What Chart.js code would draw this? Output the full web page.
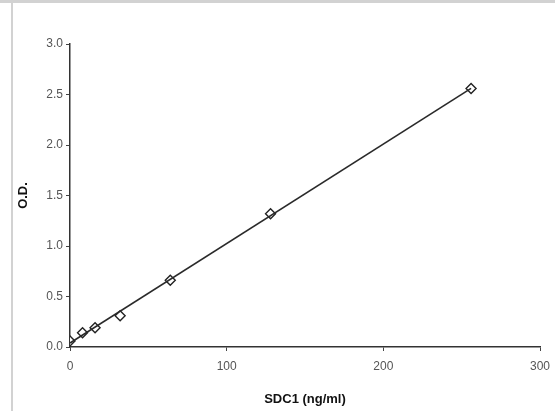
<!DOCTYPE html>
<html lang="en">
<head>
    <meta charset="UTF-8">
    <script src="https://cdn.jsdelivr.net/npm/chart.js"></script>
    <title>SDC1 standard curve</title>
    <style>
        html, body { margin: 0; padding: 0; background: #fff; }
        #frame { position: absolute; left: 0; top: 0; width: 555px; height: 411px; }
        #topbar { position: absolute; left: 0; top: 0; width: 555px; height: 3px; background: #d2d2d2; }
        #leftbar { position: absolute; left: 11px; top: 0; width: 2px; height: 411px; background: #d2d2d2; }
        canvas { position: absolute; left: 0; top: 0; }
    </style>
</head>
<body>
    <div id="frame">
        <canvas id="chart" width="555" height="411"></canvas>
        <div id="topbar"></div>
        <div id="leftbar"></div>
    </div>

    <script>
        // standards
        const concentration = [0, 8, 16, 32, 64, 128, 256];
        const opticalDensity = [0.06, 0.14, 0.19, 0.31, 0.66, 1.32, 2.56];

        // trend line ends
        const fitX = [0, 256];
        const fitY = [0.04, 2.56];

        const yTicks = [0, 0.5, 1.0, 1.5, 2.0, 2.5, 3.0];
        const xTicks = [0, 100, 200, 300];

        const points = concentration.map((x, i) => ({ x: x, y: opticalDensity[i] }));
        const fit = fitX.map((x, i) => ({ x: x, y: fitY[i] }));

        const tickFont = { family: 'Liberation Sans, Arial, sans-serif', size: 12 };
        const titleFont = { family: 'Liberation Sans, Arial, sans-serif', size: 13, weight: 'bold' };

        new Chart(document.getElementById('chart'), {
            type: 'scatter',
            data: {
                datasets: [{
                    label: 'fit',
                    data: fit,
                    showLine: true,
                    borderColor: '#2a2a2a',
                    borderWidth: 1.6,
                    pointRadius: 0
                }, {
                    label: 'SDC1',
                    data: points,
                    pointStyle: 'rectRot',
                    pointRadius: 5,
                    pointBackgroundColor: '#fff',
                    pointBorderColor: '#222',
                    pointBorderWidth: 1.4
                }]
            },
            options: {
                responsive: false,
                animation: false,
                layout: { padding: { left: 12, right: 15, top: 44, bottom: 0 } },
                plugins: { legend: { display: false }, tooltip: { enabled: false } },
                scales: {
                    x: {
                        type: 'linear',
                        min: 0, max: 300,
                        afterBuildTicks: s => { s.ticks = xTicks.map(v => ({ value: v })); },
                        ticks: { font: tickFont, color: '#555', padding: 8 },
                        grid: { drawOnChartArea: false, tickLength: 4, color: '#444' },
                        border: { color: '#333', width: 1.5 },
                        title: { display: true, text: 'SDC1 (ng/ml)', font: titleFont, color: '#111', padding: { top: 8, bottom: 4 } },
                        afterFit: s => { s.height = 64; s.paddingRight = 0; s.paddingLeft = 0; }
                    },
                    y: {
                        type: 'linear',
                        min: 0, max: 3,
                        afterBuildTicks: s => { s.ticks = yTicks.map(v => ({ value: v })); },
                        ticks: { font: tickFont, color: '#555', padding: 3, callback: v => v.toFixed(1) },
                        grid: { drawOnChartArea: false, tickLength: 4, color: '#444' },
                        border: { color: '#333', width: 1.5 },
                        title: { display: true, text: 'O.D.', font: titleFont, color: '#111', padding: { top: 4, bottom: 10 } },
                        afterFit: s => { s.width = 58; }
                    }
                }
            }
        });
    </script>
</body>
</html>
